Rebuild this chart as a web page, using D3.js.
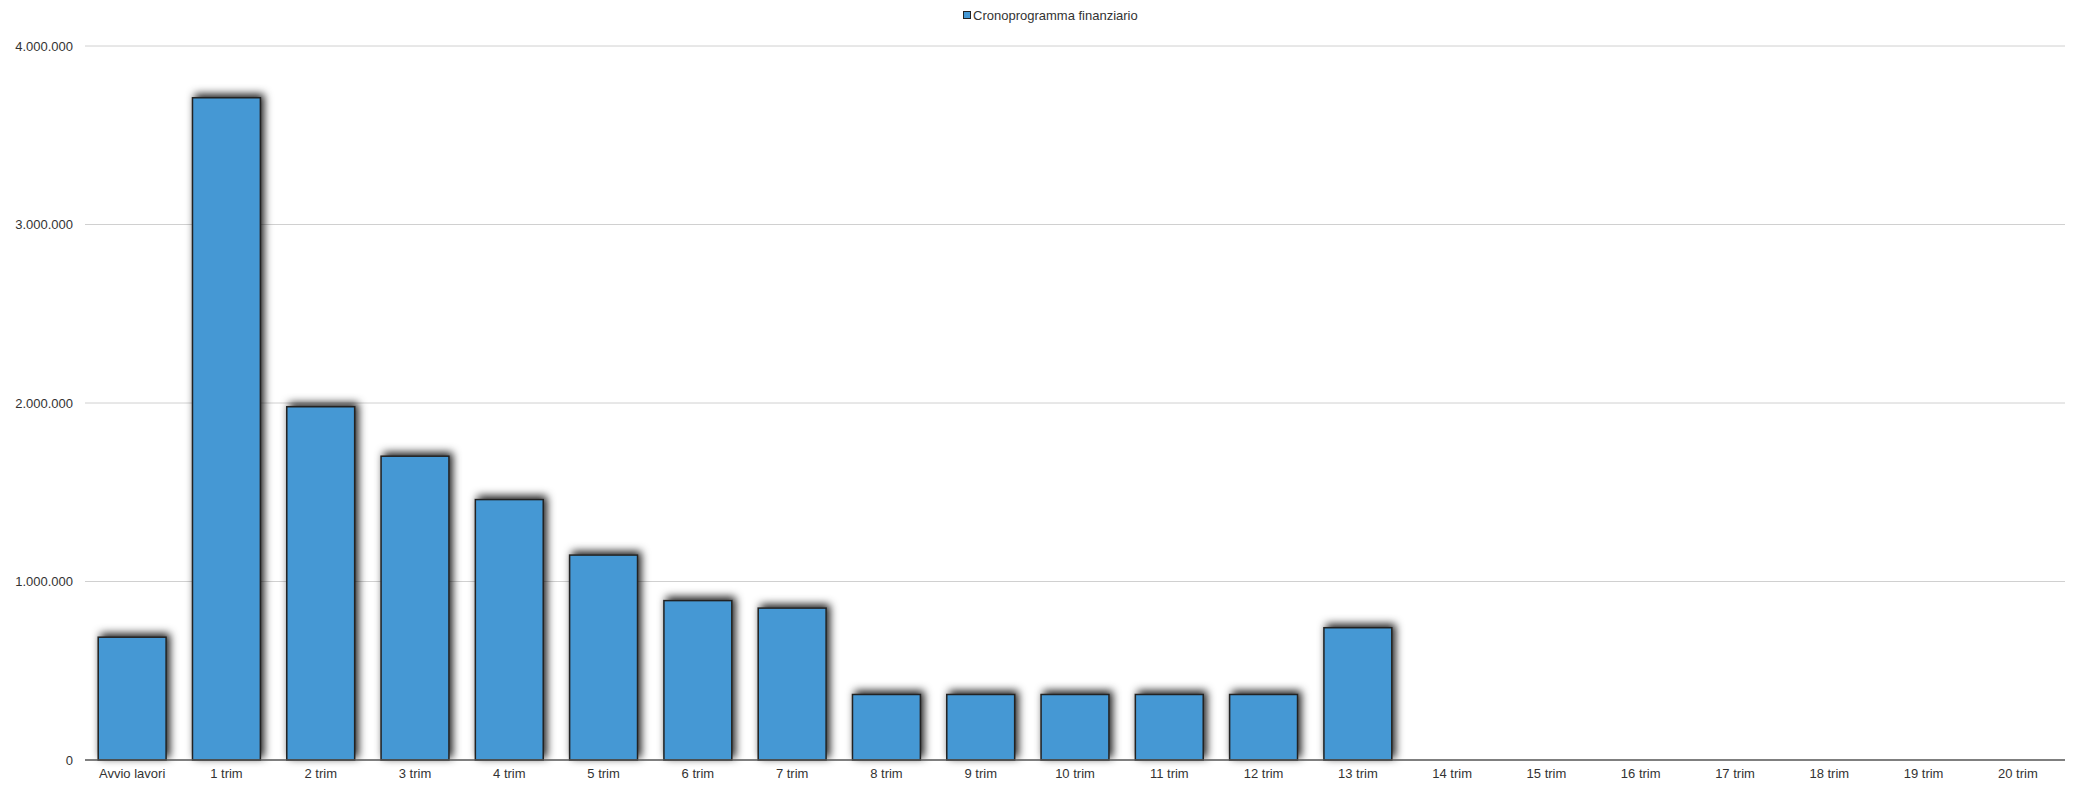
<!DOCTYPE html>
<html>
<head>
<meta charset="utf-8">
<script src="https://cdn.jsdelivr.net/npm/d3@7"></script>
<style>
  html, body { margin: 0; padding: 0; background: #fff; }
  svg { display: block; font-family: "Liberation Sans", Arial, sans-serif; }
</style>
</head>
<body>
<svg id="chart" width="2076" height="788"></svg>
<script>
const categories = ["Avvio lavori", "1 trim", "2 trim", "3 trim", "4 trim", "5 trim", "6 trim", "7 trim",
  "8 trim", "9 trim", "10 trim", "11 trim", "12 trim", "13 trim", "14 trim", "15 trim", "16 trim",
  "17 trim", "18 trim", "19 trim", "20 trim"];
const values = [688000, 3710000, 1979000, 1702000, 1459000, 1148000, 893000, 851000,
  367000, 367000, 367000, 367000, 367000, 741000, 0, 0, 0, 0, 0, 0, 0];
const yTicks = [0, 1000000, 2000000, 3000000, 4000000];
const seriesName = "Cronoprogramma finanziario";

const svg = d3.select("#chart");
const mLeft = 85, mRight = 2065, mTop = 46, mBottom = 760;

const defs = svg.append("defs");
const f = defs.append("filter").attr("id", "shadow")
  .attr("x", "-30%").attr("y", "-30%").attr("width", "160%").attr("height", "160%");
f.append("feDropShadow").attr("dx", 3).attr("dy", -3).attr("stdDeviation", 4)
  .attr("flood-color", "#000").attr("flood-opacity", 0.9);

const x = d3.scaleBand().domain(categories).range([mLeft, mRight])
  .paddingInner(0.28).paddingOuter(0.14);
const y = d3.scaleLinear().domain([0, 4000000]).range([mBottom, mTop]);

const fmt = v => d3.format(",")(v).replace(/,/g, ".");

// grid
svg.append("g").selectAll("line").data(yTicks.filter(d => d > 0)).join("line")
  .attr("x1", mLeft).attr("x2", mRight)
  .attr("y1", d => y(d)).attr("y2", d => y(d))
  .attr("stroke", "#d0d0d0").attr("stroke-width", 1);

// y labels
const yAxis = d3.axisLeft(y).tickValues(yTicks).tickFormat(fmt).tickSize(0).tickPadding(12);
const yg = svg.append("g").attr("transform", `translate(${mLeft},0)`).call(yAxis);
yg.select(".domain").remove();
yg.selectAll("text").attr("font-size", 13).attr("fill", "#333")
  .attr("font-family", "'Liberation Sans', Arial, sans-serif");

// bars
svg.append("g").selectAll("rect").data(categories.map((c, i) => ({c, v: values[i]})).filter(d => d.v > 0))
  .join("rect")
  .attr("x", d => x(d.c)).attr("width", x.bandwidth())
  .attr("y", d => y(d.v)).attr("height", d => y(0) - y(d.v))
  .attr("fill", "#4598d4").attr("stroke", "#222").attr("stroke-width", 1.5)
  .attr("filter", "url(#shadow)");

// x axis
const xAxis = d3.axisBottom(x).tickSize(0).tickPadding(9);
const xg = svg.append("g").attr("transform", `translate(0,${mBottom})`).call(xAxis);
xg.select(".domain").attr("stroke", "#555").attr("stroke-width", 1.5)
  .attr("d", `M${mLeft},0H${mRight}`);
xg.selectAll("text").attr("font-size", 13).attr("fill", "#333")
  .attr("font-family", "'Liberation Sans', Arial, sans-serif");

// legend
const lg = svg.append("g");
lg.append("rect").attr("x", 963.5).attr("y", 11.5).attr("width", 7).attr("height", 7)
  .attr("fill", "#4598d4").attr("stroke", "#222").attr("stroke-width", 1);
lg.append("text").attr("x", 973).attr("y", 15).attr("dy", "0.35em")
  .attr("font-size", 13).attr("fill", "#333").text(seriesName);
</script>
</body>
</html>
